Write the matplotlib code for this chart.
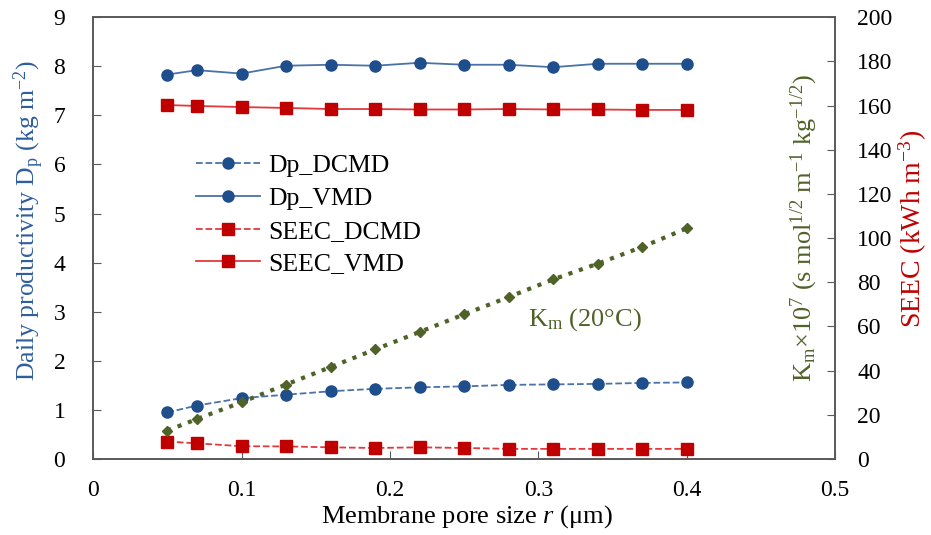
import matplotlib
matplotlib.use("Agg")
import matplotlib.pyplot as plt

plt.rcParams['font.family'] = ['Liberation Serif', 'DejaVu Serif']
plt.rcParams['mathtext.fontset'] = 'custom'
plt.rcParams['mathtext.rm'] = 'Liberation Serif'
plt.rcParams['mathtext.it'] = 'Liberation Serif:italic'
plt.rcParams['mathtext.default'] = 'regular'

# pore size r (um)
pore_size = [0.05, 0.07, 0.10, 0.13, 0.16, 0.19, 0.22, 0.25, 0.28, 0.31, 0.34, 0.37, 0.40]

# daily productivity (kg m-2), left axis
dp_dcmd = [0.95, 1.09, 1.24, 1.31, 1.38, 1.43, 1.46, 1.48, 1.51, 1.52, 1.53, 1.55, 1.56]
dp_vmd = [7.83, 7.92, 7.85, 8.01, 8.03, 8.01, 8.07, 8.03, 8.03, 7.98, 8.05, 8.05, 8.05]

# SEEC (kWh m-3), right axis
seec_dcmd = [7.9, 7.1, 5.8, 5.7, 5.3, 5.0, 5.3, 5.0, 4.6, 4.6, 4.6, 4.6, 4.6]
seec_vmd = [160.2, 159.8, 159.3, 158.9, 158.4, 158.4, 158.2, 158.2, 158.4, 158.2, 158.2, 158.0, 158.0]

# Km x 1e7, right axis
km_20c = [12.9, 18.1, 25.7, 33.7, 41.6, 49.6, 57.5, 65.5, 73.3, 81.3, 88.4, 96.0, 104.4]

BLUE = '#1F4E8C'
BLUE_LINE = '#4A72A8'
RED = '#C00000'
RED_LINE = '#E0393E'
GREEN = '#4F6228'
SPINE = '#595959'
FS_TICK = 17

fig = plt.figure(figsize=(9.31, 5.35), dpi=100)
ax = fig.add_axes([0.100, 0.142, 0.797, 0.826])
ax2 = ax.twinx()

l1, = ax.plot(pore_size, dp_dcmd, '--', color=BLUE_LINE, lw=1.3,
              marker='o', ms=8, mfc=BLUE, mec=BLUE, label='Dp_DCMD')
l2, = ax.plot(pore_size, dp_vmd, '-', color=BLUE_LINE, lw=1.3,
              marker='o', ms=8, mfc=BLUE, mec=BLUE, label='Dp_VMD')
l3, = ax2.plot(pore_size, seec_dcmd, '--', color=RED_LINE, lw=1.3,
               marker='s', ms=8, mfc=RED, mec=RED, label='SEEC_DCMD')
l4, = ax2.plot(pore_size, seec_vmd, '-', color=RED_LINE, lw=1.3,
               marker='s', ms=8, mfc=RED, mec=RED, label='SEEC_VMD')
ax2.plot(pore_size, km_20c, ':', color=GREEN, lw=3,
         marker='D', ms=5, mfc=GREEN, mec=GREEN)

ax.set_xlim(0, 0.5)
ax.set_ylim(0, 9)
ax2.set_ylim(0, 200)
ax.set_xticks([0, 0.1, 0.2, 0.3, 0.4, 0.5])
ax.set_xticklabels(['0', '0.1', '0.2', '0.3', '0.4', '0.5'])
ax.set_yticks(range(0, 10))
ax2.set_yticks(range(0, 201, 20))

ax.tick_params(axis='x', direction='in', length=6, labelsize=FS_TICK, pad=15, color=SPINE)
ax.tick_params(axis='y', direction='in', length=6, labelsize=FS_TICK, pad=20, color=SPINE)
ax2.tick_params(axis='y', direction='in', length=6, labelsize=FS_TICK, pad=16, color=SPINE)
for a in (ax, ax2):
    for s in a.spines.values():
        s.set_color(SPINE)
        s.set_linewidth(1.2)

fig.text(0.502, 0.034, r'Membrane pore size $\mathit{r}$ ($\mathregular{\mu}$m)',
         ha='center', va='center', fontsize=19)
fig.text(0.031, 0.587, r'Daily productivity D$_p$ (kg m$^{-2}$)', rotation=90,
         ha='center', va='center', fontsize=18.5, color='#2E5E9E')
fig.text(0.864, 0.574, r'K$_m$$\times$10$^7$ (s mol$^{1/2}$ m$^{-1}$ kg$^{-1/2}$)', rotation=90,
         ha='center', va='center', fontsize=19, color=GREEN)
fig.text(0.981, 0.572, r'SEEC (kWh m$^{-3}$)', rotation=90,
         ha='center', va='center', fontsize=20, color=RED)

ax2.text(0.293, 63, r'K$_m$ (20°C)', fontsize=19, color=GREEN,
         ha='left', va='center')

ax.legend(handles=[l1, l2, l3, l4], loc='upper left', bbox_to_anchor=(0.139, 0.69),
          frameon=False, fontsize=18.5, handlelength=2.5, labelspacing=0.38,
          handletextpad=0.3, borderpad=0, borderaxespad=0)

fig.savefig('out.png', dpi=100)
